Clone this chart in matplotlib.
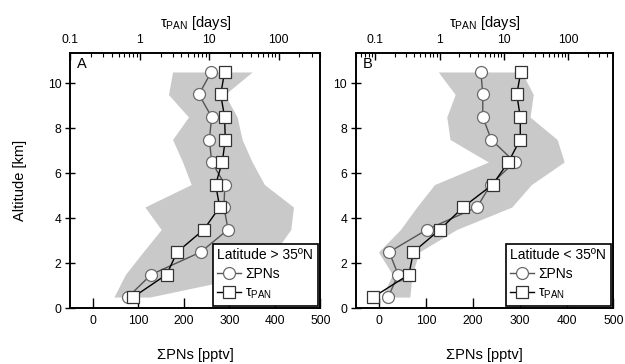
import matplotlib
matplotlib.use("Agg")
import matplotlib.pyplot as plt
from matplotlib.lines import Line2D
import numpy as np

plt.rcParams['font.family'] = ['Liberation Sans', 'DejaVu Sans']
plt.rcParams['mathtext.fontset'] = 'custom'
plt.rcParams['mathtext.rm'] = 'Liberation Sans'
plt.rcParams['mathtext.it'] = 'Liberation Sans:italic'

altitude = [10.5, 9.5, 8.5, 7.5, 6.5, 5.5, 4.5, 3.5, 2.5, 1.5, 0.5]

# Panel A: latitude > 35N
pns_A = [260, 233, 261, 256, 261, 290, 288, 297, 237, 128, 77]
tau_A = [16.7, 14.7, 16.7, 17.1, 15.5, 12.4, 14.2, 8.4, 3.47, 2.44, 0.81]
shade_left_A = [175, 166, 210, 175, 197, 216, 114, 150, 110, 71, 46]
shade_right_A = [350, 290, 317, 328, 350, 377, 441, 435, 400, 360, 125]

# Panel B: latitude < 35N
pns_B = [217, 221, 221, 239, 289, 238, 209, 102, 21, 40, 19]
tau_B = [18.2, 15.8, 17.9, 17.9, 11.7, 6.68, 2.33, 1.01, 0.389, 0.333, 0.093]
shade_left_B = [126, 162, 144, 151, 233, 118, 80, 45, -2, 28, 5]
shade_right_B = [304, 329, 322, 380, 395, 325, 283, 165, 85, 70, 65]

top_ticks = [0.1, 1, 10, 100]
top_ticklabels = ['0.1', '1', '10', '100']
bottom_ticks = [0, 100, 200, 300, 400, 500]
y_ticks = [0, 2, 4, 6, 8, 10]

fig = plt.figure(figsize=(6.25, 3.64), dpi=100)
W, H = 625.0, 364.0

panels = [
    dict(rect=[70.3 / W, (H - 308.3) / H, 250 / W, 255 / H], pns=pns_A, tau=tau_A,
         sl=shade_left_A, sr=shade_right_A, toplim=(0.1, 400), letter='A',
         title='Latitude > 35ºN', ylabel=True),
    dict(rect=[356 / W, (H - 308.3) / H, 257.3 / W, 255 / H], pns=pns_B, tau=tau_B,
         sl=shade_left_B, sr=shade_right_B, toplim=(0.05, 500), letter='B',
         title='Latitude < 35ºN', ylabel=False),
]

shade_col = '#c9c9c9'
circ_edge = '#6a6a6a'
circ_line = '#555555'
sq_edge = '#333333'

for p in panels:
    ax = fig.add_axes(p['rect'])
    ax.fill_betweenx(altitude, p['sl'], p['sr'], color=shade_col, lw=0, zorder=1)
    ax.plot(p['pns'], altitude, '-', color=circ_line, lw=1.0, zorder=3,
            marker='o', ms=8.6, mfc='white', mec=circ_edge, mew=0.9)
    ax.set_xlim(-50, 500)
    ax.set_ylim(0, 11.33)
    ax.set_xticks(bottom_ticks)
    ax.set_yticks(y_ticks)
    ax.tick_params(axis='x', direction='in', length=7.5, width=1.0, labelsize=8.7,
                   pad=5, top=False)
    ax.tick_params(axis='y', direction='inout', length=7, width=1.0, labelsize=8.7,
                   pad=3, right=False)
    for s in ax.spines.values():
        s.set_linewidth(1.2)
    ax.set_xlabel('ΣPNs [pptv]', fontsize=10.5, labelpad=15)
    if p['ylabel']:
        ax.set_ylabel('Altitude [km]', fontsize=10.5, labelpad=15)
    ax.text(0.027, 0.985, p['letter'], transform=ax.transAxes, fontsize=10.5,
            va='top', ha='left', zorder=6)

    ax2 = ax.twiny()
    ax2.set_xscale('log')
    ax2.plot(p['tau'], altitude, '-', color='black', lw=1.0, zorder=4,
             marker='s', ms=8.0, mfc='white', mec=sq_edge, mew=0.9)
    ax2.set_xlim(*p['toplim'])
    ax2.set_ylim(0, 11.33)
    ax2.set_xticks(top_ticks)
    ax2.set_xticklabels(top_ticklabels)
    ax2.tick_params(axis='x', which='major', direction='in', length=5, width=1.0,
                    labelsize=8.7, pad=5)
    ax2.tick_params(axis='x', which='minor', direction='in', length=3, width=0.8)
    for s in ax2.spines.values():
        s.set_linewidth(1.2)
    ax2.set_xlabel('τ$_{\\mathrm{PAN}}$ [days]', fontsize=10.5, labelpad=5)

    handles = [
        Line2D([], [], color=circ_line, lw=1.0, marker='o', ms=8.6, mfc='white',
               mec=circ_edge, mew=0.9),
        Line2D([], [], color='black', lw=1.0, marker='s', ms=8.0, mfc='white',
               mec=sq_edge, mew=0.9),
    ]
    leg = ax2.legend(handles, ['ΣPNs', 'τ$_{\\mathrm{PAN}}$'], title=p['title'],
                     loc='lower right', fontsize=10, title_fontsize=10,
                     frameon=True, fancybox=False, framealpha=1, edgecolor='black',
                     borderaxespad=0.2, borderpad=0.3, labelspacing=0.35,
                     handlelength=1.7, handletextpad=0.3, alignment='left')
    leg.get_frame().set_linewidth(1.2)
    leg.set_zorder(10)

fig.savefig('out.png', dpi=100)
